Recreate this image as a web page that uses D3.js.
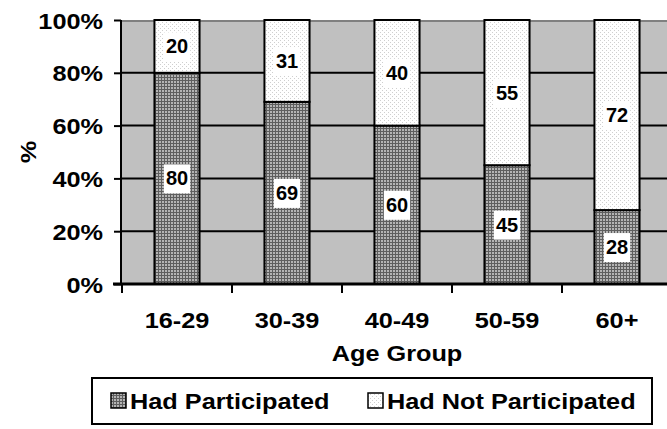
<!DOCTYPE html>
<html><head><meta charset="utf-8">
<script src="https://cdn.jsdelivr.net/npm/d3@7"></script>
<style>body{margin:0;background:#fff}svg{display:block}text{font-family:"Liberation Sans",Arial,sans-serif;font-weight:bold;fill:#000}</style>
</head><body>
<svg id="c" width="667" height="429"></svg>
<script>
const categories = ["16-29","30-39","40-49","50-59","60+"];
const participated = [80,69,60,45,28];
const notParticipated = [20,31,40,55,72];
const yTicks = [0,20,40,60,80,100];
const seriesNames = ["Had Participated","Had Not Participated"];

const FS = 22, SX = 1.15;
const svg = d3.select("#c");
const defs = svg.append("defs");
const p1 = defs.append("pattern").attr("id","chk").attr("width",3).attr("height",3).attr("patternUnits","userSpaceOnUse");
p1.append("rect").attr("width",3).attr("height",3).attr("fill","#5e5e5e");
p1.append("rect").attr("width",2).attr("height",2).attr("fill","#b4b4b4");
const p2 = defs.append("pattern").attr("id","dot").attr("width",4).attr("height",4).attr("patternUnits","userSpaceOnUse");
p2.append("rect").attr("width",4).attr("height",4).attr("fill","#ffffff");
p2.append("rect").attr("width",1).attr("height",1).attr("fill","#cfcfcf");
p2.append("rect").attr("x",2).attr("y",2).attr("width",1).attr("height",1).attr("fill","#cfcfcf");

const L = 122, R = 672, T = 20, B = 284;
const x = d3.scaleBand().domain(categories).range([L,R]).paddingInner(0.59).paddingOuter(0.295);
const y = d3.scaleLinear().domain([0,100]).range([B,T]);

function stext(parent, tx, ty, str, anchor){
  return parent.append("text").attr("x",0).attr("y",0).attr("text-anchor",anchor||"middle")
    .attr("font-size",FS).attr("transform",`translate(${tx},${ty}) scale(${SX},1)`).text(str);
}

svg.append("rect").attr("x",L).attr("y",T).attr("width",R-L).attr("height",B-T).attr("fill","#c0c0c0");
svg.append("line").attr("x1",L).attr("x2",R).attr("y1",T+1).attr("y2",T+1).attr("stroke","#808080").attr("stroke-width",2);
svg.selectAll(".grid").data(yTicks.filter(d=>d>0&&d<100)).enter().append("line")
  .attr("x1",L).attr("x2",R).attr("y1",d=>y(d)).attr("y2",d=>y(d)).attr("stroke","#000").attr("stroke-width",2);

const data = categories.map((c,i)=>({c, a:participated[i], b:notParticipated[i]}));
const bw = x.bandwidth();
const g = svg.append("g");
g.selectAll(".a").data(data).enter().append("rect")
  .attr("x",d=>x(d.c)).attr("y",d=>y(d.a)).attr("width",bw).attr("height",d=>y(0)-y(d.a))
  .attr("fill","url(#chk)").attr("stroke","#000").attr("stroke-width",2);
g.selectAll(".b").data(data).enter().append("rect")
  .attr("x",d=>x(d.c)).attr("y",d=>y(d.a+d.b)).attr("width",bw).attr("height",d=>y(d.a)-y(d.a+d.b))
  .attr("fill","url(#dot)").attr("stroke","#000").attr("stroke-width",2);

function label(val, yc, xc){
  const gg = svg.append("g");
  const t = gg.append("text").attr("x",xc).attr("y",yc+7).attr("text-anchor","middle").attr("font-size",20).text(val);
  const bb = t.node().getBBox();
  gg.insert("rect","text").attr("x",bb.x-2).attr("y",yc-14).attr("width",bb.width+4).attr("height",29).attr("fill","#fff");
}
data.forEach(d=>{
  const xc = x(d.c)+bw/2;
  label(d.a, y(d.a/2), xc);
  label(d.b, y(d.a+d.b/2), xc);
});

// y axis
const ya = d3.axisLeft(y).tickValues(yTicks).tickFormat("").tickSize(7);
const yg = svg.append("g").attr("transform",`translate(${L-1},0)`).call(ya);
yg.select(".domain").attr("stroke-width",2).attr("d",`M0,${T}V${B}`);
yg.selectAll(".tick line").attr("stroke-width",2);
yg.selectAll(".tick").each(function(d){ stext(d3.select(this), -18, 8, d+"%", "end"); });

// x axis
const xa = d3.axisBottom(x).tickSize(0).tickFormat("");
const xg = svg.append("g").attr("transform",`translate(0,${B})`).call(xa);
xg.select(".domain").remove();
xg.append("line").attr("x1",L-9).attr("x2",R).attr("y1",0).attr("y2",0).attr("stroke","#000").attr("stroke-width",3);
const bounds = [L].concat(categories.map(c=>x(c)+bw+x.step()*x.paddingInner()/2).slice(0,-1));
xg.selectAll(".bt").data(bounds).enter().append("line")
  .attr("x1",d=>d).attr("x2",d=>d).attr("y1",0).attr("y2",9).attr("stroke","#000").attr("stroke-width",2);
xg.selectAll(".tick").each(function(d){ stext(d3.select(this), 0, 44, d, "middle"); });

stext(svg, 397, 361, "Age Group", "middle");
svg.append("text").attr("font-size",FS).attr("text-anchor","middle")
  .attr("transform","translate(36,152) rotate(-90) scale(1.15,1)").text("%");

// legend
svg.append("rect").attr("x",92).attr("y",378).attr("width",560).attr("height",46).attr("fill","#fff").attr("stroke","#000").attr("stroke-width",2);
const lg = [{n:seriesNames[0],f:"url(#chk)",x:111},{n:seriesNames[1],f:"url(#dot)",x:368}];
lg.forEach(d=>{
  svg.append("rect").attr("x",d.x).attr("y",393).attr("width",15).attr("height",15).attr("fill",d.f).attr("stroke","#000").attr("stroke-width",1.5);
  stext(svg, d.x+19, 409, d.n, "start");
});
</script>
</body></html>
